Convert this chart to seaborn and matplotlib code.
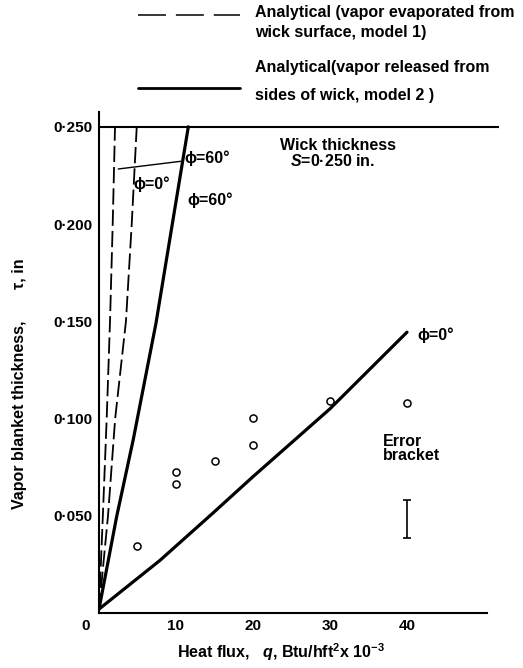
import matplotlib
matplotlib.use("Agg")
import matplotlib.pyplot as plt
import matplotlib.transforms as mtransforms
from matplotlib.lines import Line2D
import seaborn as sns
import pandas as pd

# Analytical curves: heat flux q (x 10^-3 Btu/h ft^2) vs vapor blanket thickness (in)
m1_phi60_q = [0.0, 0.5, 1.0, 1.43, 1.78, 2.08]
m1_phi60_t = [0.002, 0.050, 0.100, 0.150, 0.200, 0.250]
m1_phi0_q = [0.0, 1.17, 2.1, 3.5, 4.25, 4.9]
m1_phi0_t = [0.002, 0.050, 0.100, 0.150, 0.200, 0.250]
m2_phi60_q = [0.0, 2.3, 4.45, 7.4, 9.2, 11.6]
m2_phi60_t = [0.002, 0.0497, 0.0892, 0.149, 0.1923, 0.250]
m2_phi0_q = [0.0, 7.9, 14.8, 20.0, 30.0, 40.0]
m2_phi0_t = [0.002, 0.027, 0.0514, 0.0701, 0.105, 0.1444]

# Measured points
exp_q = [4.9, 10, 10, 15, 20, 20, 30, 40]
exp_t = [0.0346, 0.0723, 0.0664, 0.0780, 0.1002, 0.0863, 0.1092, 0.1082]

# Error bracket
err_q = [40]
err_t = [0.0484]
err_half = [0.0097]

wick_thickness = 0.250
x_ticks = [0, 10, 20, 30, 40]
x_ticklabels = ["0", "10", "20", "30", "40"]
y_ticks = [0.050, 0.100, 0.150, 0.200, 0.250]
y_ticklabels = ["0·050", "0·100", "0·150", "0·200", "0·250"]

sns.set_theme(style="white")
plt.rcParams["font.family"] = ["Liberation Sans", "DejaVu Sans"]
plt.rcParams["font.weight"] = "bold"
plt.rcParams["text.color"] = "black"
plt.rcParams["axes.labelcolor"] = "black"
plt.rcParams["xtick.color"] = "black"
plt.rcParams["ytick.color"] = "black"
plt.rcParams["mathtext.fontset"] = "custom"
plt.rcParams["mathtext.rm"] = "Liberation Sans:bold"
plt.rcParams["mathtext.it"] = "Liberation Sans:italic:bold"
plt.rcParams["mathtext.bf"] = "Liberation Sans:bold"

W, H = 523, 668
fig = plt.figure(figsize=(W / 100, H / 100), dpi=100)
ax = fig.add_axes([99 / W, (H - 613) / H, 400.4 / W, 501 / H])
ax.set_xlim(0, 52)
ax.set_ylim(0, 0.2576)

FS = 11.5

dash_kw = dict(color="black", lw=1.3, dashes=(9, 2.8))
solid_kw = dict(color="black", lw=2.3)

curves = [
    (m1_phi60_q, m1_phi60_t, dash_kw),
    (m1_phi0_q, m1_phi0_t, dash_kw),
    (m2_phi60_q, m2_phi60_t, solid_kw),
    (m2_phi0_q, m2_phi0_t, solid_kw),
]
for q, t, kw in curves:
    df = pd.DataFrame({"q": q, "t": t})
    line_kw = dict(kw)
    dashes = line_kw.pop("dashes", None)
    sns.lineplot(data=df, x="q", y="t", ax=ax, sort=False, estimator=None, **line_kw)
    if dashes is not None:
        ax.lines[-1].set_dashes(dashes)

# Wick thickness limit
ax.axhline(wick_thickness, color="black", lw=1.5)

sns.scatterplot(x=exp_q, y=exp_t, ax=ax, s=26, marker="o",
                facecolor="white", edgecolor="black", linewidth=1.1, zorder=5)

ax.errorbar(err_q, err_t, yerr=err_half, fmt="none", ecolor="black",
            elinewidth=1.2, capsize=2.6, capthick=1.2)

# Curve labels
ax.annotate("ϕ=60°", xy=(2.5, 0.2283), xytext=(11.04, 0.2339),
            fontsize=FS, fontweight="bold", ha="left", va="center",
            arrowprops=dict(arrowstyle="-", lw=1.0, color="black",
                            shrinkA=0, shrinkB=0))
ax.text(4.42, 0.2206, "ϕ=0°", fontsize=FS, fontweight="bold", ha="left", va="center")
ax.text(11.43, 0.2123, "ϕ=60°", fontsize=FS, fontweight="bold", ha="left", va="center")
ax.text(41.4, 0.1429, "ϕ=0°", fontsize=FS, fontweight="bold", ha="left", va="center")
ax.text(23.5, 0.2406, "Wick thickness", fontsize=FS, fontweight="bold", ha="left", va="center")
ax.text(24.8, 0.2324, "$S$=0·250 in.", fontsize=FS, fontweight="bold", ha="left", va="center")
ax.text(36.9, 0.0846, "Error\nbracket", fontsize=FS, fontweight="bold", ha="left",
        va="center", linespacing=0.95)

# Axes styling
for side in ["top", "right"]:
    ax.spines[side].set_visible(False)
for side in ["left", "bottom"]:
    ax.spines[side].set_color("black")
    ax.spines[side].set_linewidth(1.5)
ax.spines["bottom"].set_bounds(0, 50.4)

ax.set_xticks(x_ticks)
ax.set_xticklabels(x_ticklabels)
ax.set_yticks(y_ticks)
ax.set_yticklabels(y_ticklabels)
ax.tick_params(axis="x", direction="in", length=8.6, width=1.1, pad=4,
               labelsize=11, colors="black")
ax.tick_params(axis="y", direction="in", length=8, width=1.1, pad=4.5,
               labelsize=11, colors="black")
for lab in ax.get_xticklabels() + ax.get_yticklabels():
    lab.set_fontweight("bold")
zero_lab = ax.get_xticklabels()[0]
zero_lab.set_transform(zero_lab.get_transform() +
                       mtransforms.ScaledTranslation(-0.13, 0, fig.dpi_scale_trans))

ax.set_xlabel("Heat flux,   $q$, Btu/hft$^2$x 10$^{-3}$", fontsize=FS, fontweight="bold")
ax.xaxis.set_label_coords((281 - 99) / 400.4, (613 - 652) / 501)
ax.xaxis.label.set_va("center")
ax.set_ylabel("Vapor blanket thickness,       τ, in", fontsize=FS, fontweight="bold")
ax.yaxis.set_label_coords((19 - 99) / 400.4, (613 - 384) / 501)
ax.yaxis.label.set_va("center")

# Key at the top of the figure
def fx(px):
    return px / W

def fy(py):
    return 1 - py / H

fig.add_artist(Line2D([fx(138), fx(240)], [fy(15), fy(15)], color="black",
                      lw=1.1, dashes=(18.3, 6.5), transform=fig.transFigure))
fig.add_artist(Line2D([fx(138), fx(240)], [fy(88), fy(88)], color="black",
                      lw=2.0, transform=fig.transFigure))
key_lines = [
    (12.5, "Analytical (vapor evaporated from"),
    (33, "wick surface, model 1)"),
    (67.5, "Analytical(vapor released from"),
    (95.5, "sides of wick, model 2 )"),
]
for py, s in key_lines:
    fig.text(fx(255), fy(py), s, fontsize=FS, fontweight="bold", ha="left", va="center")

fig.savefig("out.png", dpi=100, facecolor="white")
